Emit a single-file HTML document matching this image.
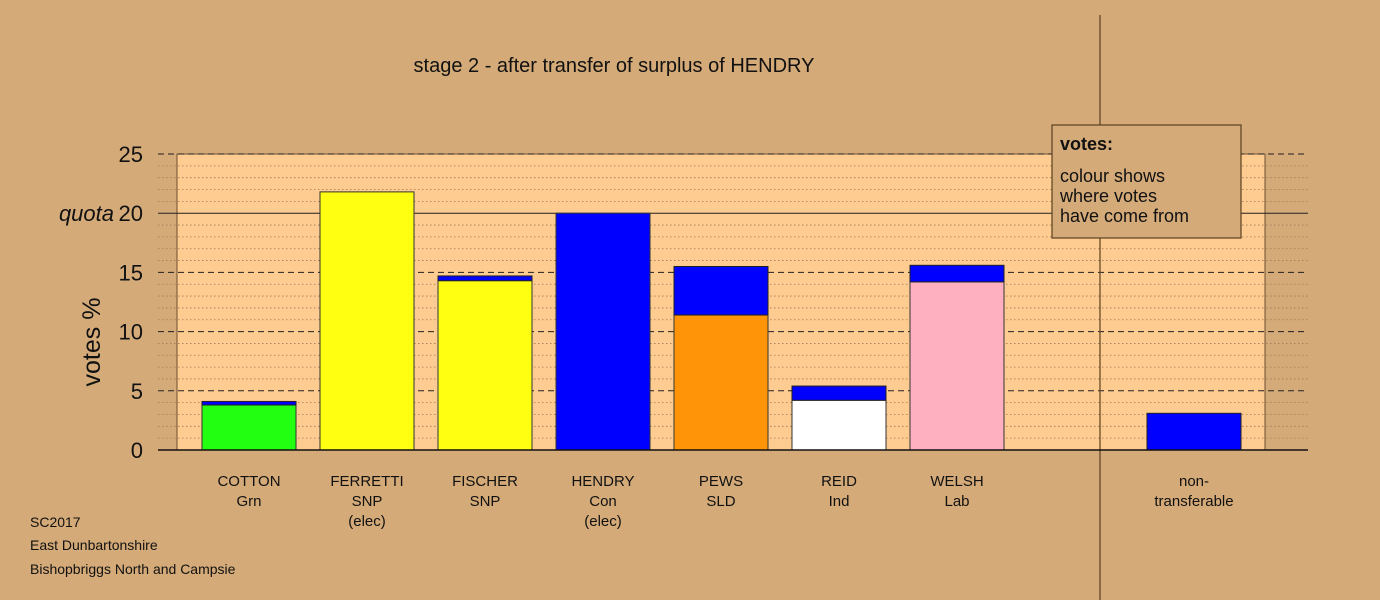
<!DOCTYPE html>
<html><head><meta charset="utf-8"><style>
body{margin:0;background:#d4aa78;}
svg{display:block;font-family:"Liberation Sans",Arial,sans-serif;}
</style></head><body>
<svg id="c" width="1380" height="600" viewBox="0 0 1380 600">
<rect width="1380" height="600" fill="#d4aa78"/>
<text x="614" y="72" font-size="20" text-anchor="middle" fill="#111">stage 2 - after transfer of surplus of HENDRY</text>
<rect x="177" y="154" width="1088" height="296" fill="#fecb90" stroke="#6b5030" stroke-width="1"/>
<g id="grid"></g>
<g id="bars"></g>
<line x1="1100" y1="15" x2="1100" y2="600" stroke="#5a4020" stroke-width="1.2"/>
<g id="ylabels"></g>
<text x="100" y="342" font-size="25" text-anchor="middle" transform="rotate(-90 100 342)" fill="#111">votes %</text>
<g id="xlabels"></g>
<g>
<rect x="1052" y="125" width="189" height="113" fill="#d4aa78" stroke="#5a4020" stroke-width="1.2"/>
<text x="1060" y="150" font-size="18" font-weight="bold" fill="#111">votes:</text>
<text x="1060" y="182" font-size="18" fill="#111">colour shows</text>
<text x="1060" y="202" font-size="18" fill="#111">where votes</text>
<text x="1060" y="222" font-size="18" fill="#111">have come from</text>
</g>
<text x="30" y="527" font-size="14" fill="#111">SC2017</text>
<text x="30" y="550" font-size="14" fill="#111">East Dunbartonshire</text>
<text x="30" y="574" font-size="14" fill="#111">Bishopbriggs North and Campsie</text>
</svg>
<script>
const candidates=["COTTON","FERRETTI","FISCHER","HENDRY","PEWS","REID","WELSH","non-"];
const subLabels=["Grn","SNP","SNP","Con","SLD","Ind","Lab","transferable"];
const thirdLabels=["","(elec)","","(elec)","","","",""];
const baseValues=[3.8,21.8,14.3,20.0,11.4,4.2,14.2,0];
const transferValues=[0.3,0,0.4,0,4.1,1.2,1.4,3.1];
const baseColors=["#22ff11","#ffff11","#ffff11","#0000ff","#ff9408","#ffffff","#ffb0c0","#0000ff"];
const transferColor="#0000ff";
const yTicks=[0,5,10,15,20,25];
const quota=20;

const NS="http://www.w3.org/2000/svg";
const y0=450,yTop=154,yMax=25;
const yScale=v=>y0-(v/yMax)*(y0-yTop);
const xCenter=i=>i<7?249+i*118:1194;
const barW=94;
function mk(tag,attrs,parent){const e=document.createElementNS(NS,tag);for(const k in attrs)e.setAttribute(k,attrs[k]);parent.appendChild(e);return e;}
const grid=document.getElementById('grid');
for(let v=1;v<yMax;v++){
  if(v%5===0)continue;
  const l=mk('line',{x1:158,x2:1308,y1:yScale(v),y2:yScale(v),stroke:'#9a7a5a','stroke-width':0.8,'stroke-dasharray':'1.5,2.5'},grid);
  
  
}
yTicks.forEach(v=>{
  if(v===0)return;
  const l=mk('line',{x1:158,x2:1308,y1:yScale(v),y2:yScale(v),stroke:'#222','stroke-width':1,'stroke-dasharray':v===quota?'none':'6,4'},grid);
  
  
});
const bars=document.getElementById('bars');
candidates.forEach((c,i)=>{
  const x=xCenter(i)-barW/2;
  const b=baseValues[i],t=transferValues[i];
  if(b>0){
    const r=mk('rect',{x:x,y:yScale(b),width:barW,height:y0-yScale(b),fill:baseColors[i],stroke:'#333','stroke-width':1},bars);
    
    
  }
  if(t>0){
    const r=mk('rect',{x:x,y:yScale(b+t),width:barW,height:yScale(b)-yScale(b+t),fill:transferColor,stroke:'#222','stroke-width':1},bars);
    
    
  }
});
const ax=mk('line',{x1:158,x2:1308,y1:y0,y2:y0,stroke:'#111','stroke-width':1.5},grid.parentNode);


const yl=document.getElementById('ylabels');
yTicks.forEach(v=>{
  const t=mk('text',{x:143,y:yScale(v)+8,'font-size':22,'text-anchor':'end',fill:'#111'},yl);
  t.textContent=v;
  
  
});
const q=mk('text',{x:114,y:yScale(quota)+8,'font-size':22,'font-style':'italic','text-anchor':'end',fill:'#111'},yl);
q.textContent='quota';


const xl=document.getElementById('xlabels');
candidates.forEach((c,i)=>{
  [c,subLabels[i],thirdLabels[i]].forEach((s,k)=>{
    if(!s)return;
    const t=mk('text',{x:xCenter(i),y:486+k*20,'font-size':15,'text-anchor':'middle',fill:'#111'},xl);
    t.textContent=s;
    
    
  });
});
</script>
</body></html>
